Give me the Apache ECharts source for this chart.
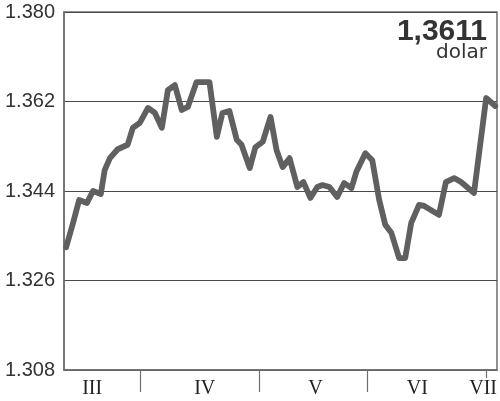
<!DOCTYPE html>
<html>
<head>
<meta charset="utf-8">
<script src="https://cdn.jsdelivr.net/npm/echarts@6/dist/echarts.min.js"></script>
<style>
html,body{margin:0;padding:0;background:#fff;}
#chart{width:500px;height:401px;}
</style>
</head>
<body>
<div id="chart"></div>
<script>
// time position along the chart (0 = left edge, 100 = right edge)
var days = [0.5,2.1,3.5,5.3,6.7,8.5,9.4,10.6,12.4,14.7,15.9,17.5,19.4,21.0,22.6,24.0,25.6,27.2,28.6,30.6,33.6,35.3,36.6,38.2,39.9,41.0,42.9,44.2,45.9,47.7,49.1,50.5,52.1,53.9,55.3,56.9,58.5,59.7,61.3,63.1,64.7,66.4,67.5,69.6,71.2,72.8,74.2,75.6,77.4,78.8,80.2,82.0,83.2,86.6,88.2,90.1,91.7,94.7,97.5,99.6];
var rates = [1.3327,1.3376,1.3422,1.3416,1.3440,1.3434,1.3482,1.3506,1.3524,1.3533,1.3567,1.3577,1.3607,1.3597,1.3567,1.3643,1.3653,1.3603,1.3609,1.3659,1.3659,1.3549,1.3597,1.3601,1.3543,1.3533,1.3486,1.3528,1.3539,1.3589,1.3522,1.3488,1.3506,1.3448,1.3458,1.3426,1.3448,1.3452,1.3448,1.3428,1.3456,1.3446,1.3478,1.3516,1.3502,1.3422,1.3372,1.3356,1.3305,1.3305,1.3376,1.3412,1.3410,1.3392,1.3458,1.3466,1.3458,1.3436,1.3627,1.3611];
var monthBounds = [17.5,45.2,70.0];
var lastBound = [97.5];
var monthCenters = [6.5,32.5,58.1,81.6,96.8];
var monthLabels = ['III','IV','V','VI','VII'];
var currentValue = '1,3611';
var currentUnit = 'dolar';

var pairs = days.map(function(d,i){return [d, rates[i]];});

var chart = echarts.init(document.getElementById('chart'), null, {renderer:'canvas'});
chart.setOption({
  animation:false,
  grid:{left:64,right:2,top:12,bottom:31,show:true,borderColor:'#6e6e6e',borderWidth:1.5,backgroundColor:'transparent'},
  xAxis:[{
    type:'value',min:0,max:100,
    axisLine:{show:true,lineStyle:{color:'#6e6e6e',width:1.5}},
    splitLine:{show:false},
    axisTick:{show:true,customValues:monthBounds,length:22,lineStyle:{color:'#6e6e6e',width:1.2}},
    axisLabel:{show:true,customValues:monthCenters,margin:9,fontFamily:'Liberation Serif',fontSize:20,color:'#222',
      formatter:function(v){
        var best=0,bd=1e9;
        monthCenters.forEach(function(c,i){var d=Math.abs(c-v);if(d<bd){bd=d;best=i;}});
        return monthLabels[best];
      }}
  },{
    type:'value',min:0,max:100,position:'bottom',
    axisLine:{show:false},splitLine:{show:false},
    axisTick:{show:true,customValues:lastBound,length:8,lineStyle:{color:'#6e6e6e',width:1.2}},
    axisLabel:{show:false}
  }],
  yAxis:{
    type:'value',min:1.308,max:1.380,interval:0.018,
    axisLine:{show:true,lineStyle:{color:'#6e6e6e',width:1.5}},
    axisTick:{show:false},
    splitLine:{show:true,lineStyle:{color:'#4a4a4a',width:1}},
    axisLabel:{margin:9,fontFamily:'Liberation Sans',fontSize:20,color:'#333',
      formatter:function(v){ return v.toFixed(3); }}
  },
  graphic:[
    {type:'text',right:13,top:17,style:{text:currentValue,font:'bold 30px "Liberation Sans"',fill:'#333',textAlign:'right'}},
    {type:'text',right:13,top:43,style:{text:currentUnit,font:'20px "DejaVu Sans"',fill:'#333',textAlign:'right'}}
  ],
  series:[{
    type:'line',data:pairs,symbol:'none',smooth:false,
    lineStyle:{color:'#606060',width:5.8,cap:'round',join:'round'}
  }]
});
</script>
</body>
</html>
